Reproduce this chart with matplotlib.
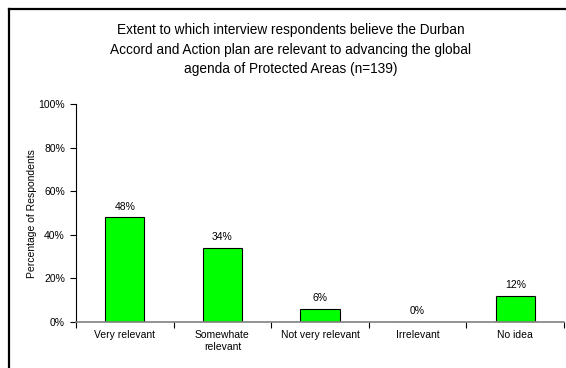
import matplotlib.pyplot as plt
from matplotlib.lines import Line2D
from matplotlib.ticker import PercentFormatter

# survey answers, percent of respondents (n=139)
categories = ['Very relevant', 'Somewhate\nrelevant', 'Not very relevant', 'Irrelevant', 'No idea']
percent = [48, 34, 6, 0, 12]

plt.rcParams['font.family'] = ['Liberation Sans', 'DejaVu Sans']

fig = plt.figure(figsize=(5.66, 3.68), dpi=100)
ax = fig.add_axes([0.1343, 0.125, 0.8622, 0.5924])

x = range(len(categories))
bars = ax.bar(x, percent, width=0.4, color='#00ff00', edgecolor='black', linewidth=0.8)
for b, v in zip(bars, percent):
    ax.annotate(f'{v}%', (b.get_x() + b.get_width() / 2, v), xytext=(0, 4),
                textcoords='offset points', ha='center', va='bottom', fontsize=7.5)

ax.set_xlim(-0.5, len(categories) - 0.5)
ax.set_ylim(0, 100)
ax.set_yticks(range(0, 101, 20))
ax.yaxis.set_major_formatter(PercentFormatter(decimals=0))
ax.set_xticks([i + 0.5 for i in range(-1, len(categories))], minor=False)
ax.set_xticklabels([])
ax.set_xticks(list(x), minor=True)
ax.set_xticklabels(categories, minor=True, fontsize=7.5)
ax.tick_params(axis='x', which='minor', length=0, pad=6)
ax.tick_params(axis='x', which='major', length=4, direction='out', color='black')
ax.tick_params(axis='y', labelsize=7.5, length=4, direction='out', pad=4)

for side in ['top', 'right']:
    ax.spines[side].set_visible(False)
ax.spines['bottom'].set_color('#808080')
ax.spines['bottom'].set_linewidth(1.2)
ax.spines['left'].set_linewidth(0.8)

fig.text(0.056, 0.42, 'Percentage of Respondents', rotation=90, fontsize=7.5,
         ha='center', va='center')
fig.text(0.513, 0.865,
         'Extent to which interview respondents believe the Durban\n'
         'Accord and Action plan are relevant to advancing the global\n'
         'agenda of Protected Areas (n=139)',
         ha='center', va='center', fontsize=9.8, linespacing=1.5)

# outer frame, left and top edges
fig.add_artist(Line2D([0.016, 0.016], [0, 0.976], color='black', linewidth=1.6))
fig.add_artist(Line2D([0.016, 1], [0.976, 0.976], color='black', linewidth=1.6))

fig.savefig('out.png', dpi=100)
